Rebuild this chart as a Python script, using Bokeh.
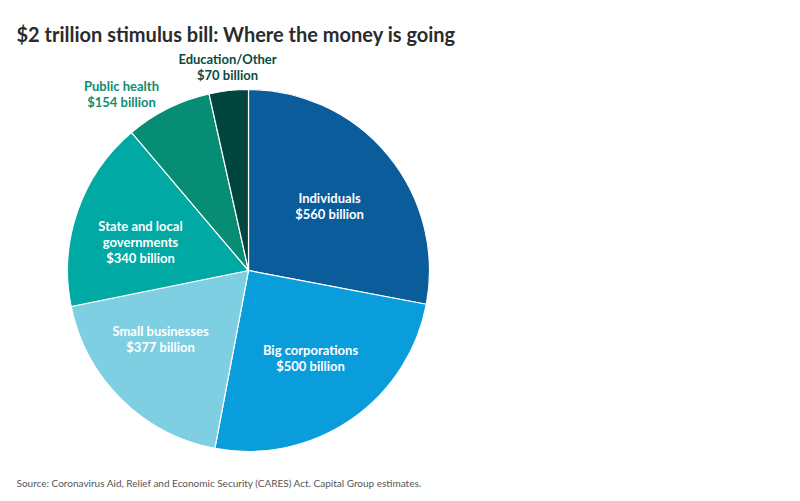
import math
from bokeh.plotting import figure
from bokeh.models import Range1d, ColumnDataSource
from bokeh.core.properties import value
from bokeh.embed import file_html
from bokeh.resources import INLINE

categories = ["Individuals", "Big corporations", "Small businesses",
              "State and local governments", "Public health", "Education/Other"]
values = [560, 500, 377, 340, 154, 70]
label_texts = ["Individuals\n$560 billion", "Big corporations\n$500 billion",
               "Small businesses\n$377 billion", "State and local\ngovernments\n$340 billion",
               "Public health\n$154 billion", "Education/Other\n$70 billion"]
colors = ["#0a5c9b", "#0a9ddb", "#7ecfe1", "#00a9a4", "#078d74", "#00463f"]
label_colors = ["white", "white", "white", "white", "#108c6f", "#0b4a42"]

W, H = 792, 493
def Y(page_y):
    return H - page_y
def X(page_x):
    return page_x

total = sum(values)
starts, ends = [], []
cum = 0
for v in values:
    starts.append(math.pi / 2 - 2 * math.pi * cum / total)
    cum += v
    ends.append(math.pi / 2 - 2 * math.pi * cum / total)

p = figure(width=W, height=H, output_backend="svg", toolbar_location=None,
           x_range=Range1d(0, W), y_range=Range1d(0, H), min_border=0)
p.axis.visible = False
p.grid.visible = False
p.outline_line_color = None
p.background_fill_color = "white"

cx, cy, r = X(248), Y(270), 181
src = ColumnDataSource(dict(start=starts, end=ends, color=colors, cat=categories))
p.wedge(x=cx, y=cy, radius=r, start_angle="start", end_angle="end",
        direction="clock", fill_color="color", line_color="white", line_width=1.2, source=src)

# label positions (page px) chosen by slice
lab_pos = [(329, 205), (310, 357), (160, 338), (140, 241), (121, 93), (227, 66)]
lsrc = ColumnDataSource(dict(x=[X(a) for a, b in lab_pos], y=[Y(b) for a, b in lab_pos],
                             text=label_texts, color=label_colors))
p.text(x="x", y="y", text="text", text_color="color", source=lsrc,
       text_font=value("Lato"), text_font_style="bold", text_font_size="13px",
       text_align="center", text_baseline="middle", text_line_height=1.0)

p.text(x=[X(16)], y=[Y(33)], text=["$2 trillion stimulus bill: Where the money is going"],
       text_font=value("Lato"), text_font_style="bold", text_font_size="20px",
       text_color="#2b2b2b", text_align="left", text_baseline="middle")
p.text(x=[X(16)], y=[Y(482)], text=["Source: Coronavirus Aid, Relief and Economic Security (CARES) Act. Capital Group estimates."],
       text_font=value("Lato"), text_font_size="10px",
       text_color="#555555", text_align="left", text_baseline="middle")

open("out.html", "w").write(file_html(p, INLINE))
